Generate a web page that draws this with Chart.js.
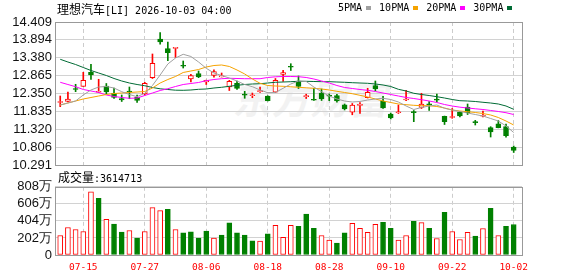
<!DOCTYPE html>
<html>
<head>
<meta charset="utf-8">
<script src="https://cdn.jsdelivr.net/npm/chart.js@4.4.1/dist/chart.umd.min.js"></script>
<style>
  html, body { margin: 0; padding: 0; background: #fff; }
  #wrap { position: relative; width: 578px; height: 276px; overflow: hidden; }
  canvas { position: absolute; left: 0; }
  #price-canvas { top: 0; }
  #vol-canvas { top: 176px; }
  .txt { position: absolute; white-space: nowrap; color: #000; line-height: 14px; }
  .cjk { font-family: "Noto Sans CJK SC"; font-size: 12px; }
  .mono { font-family: "DejaVu Sans Mono"; font-size: 10px; }
  #watermark { position: absolute; left: 236px; top: 70px; font-family: "Noto Sans CJK SC"; font-weight: bold;
    font-size: 38px; color: #f2f2f2; transform: skewX(-12deg); letter-spacing: 1px; }
  #legend { position: absolute; left: 338px; top: 2px; display: flex; align-items: center; }
  #legend .sq { display: inline-block; width: 5px; height: 4px; margin: 0 8px 0 4px; }
</style>
</head>
<body>
<div id="wrap">
  <div id="watermark">东方财富</div>
  <canvas id="price-canvas" width="578" height="176"></canvas>
  <canvas id="vol-canvas" width="578" height="100"></canvas>
  <div class="txt" style="left:57px;top:2px;"><span class="cjk">理想汽车</span><span class="mono">[LI] 2026-10-03 04:00</span></div>
  <div id="legend"></div>
  <div class="txt" style="left:58px;top:170px;"><span class="cjk">成交量</span><span class="mono" id="vol-last"></span></div>
</div>
<script>
const dates = ['07-10', '07-13', '07-14', '07-15', '07-16', '07-17', '07-20', '07-21', '07-22', '07-23',
  '07-24', '07-27', '07-28', '07-29', '07-30', '07-31', '08-03', '08-04', '08-05', '08-06',
  '08-07', '08-10', '08-11', '08-12', '08-13', '08-14', '08-17', '08-18', '08-19', '08-20',
  '08-21', '08-24', '08-25', '08-26', '08-27', '08-28', '08-31', '09-01', '09-02', '09-03',
  '09-04', '09-08', '09-09', '09-10', '09-11', '09-14', '09-15', '09-16', '09-17', '09-18',
  '09-21', '09-22', '09-23', '09-24', '09-25', '09-28', '09-29', '09-30', '10-01', '10-02'];
const tickLabels = ['07-15', '07-27', '08-06', '08-18', '08-28', '09-10', '09-22', '10-02'];

const opens = [12.090, 12.125, 12.494, 12.557, 12.960, 12.385, 12.566, 12.356, 12.206, 12.422,
  12.243, 12.336, 12.805, 13.919, 13.640, 13.650, 13.156, 12.768, 12.926, 12.681,
  12.874, 12.830, 12.543, 12.644, 12.318, 12.285, 12.405, 12.278, 12.385, 12.897,
  13.128, 12.710, 12.262, 12.163, 12.364, 12.292, 12.292, 12.025, 11.809, 12.010,
  12.229, 12.575, 12.128, 11.754, 11.795, 12.163, 11.817, 11.947, 12.048, 12.177,
  11.693, 11.658, 11.809, 11.961, 11.529, 11.695, 11.365, 11.477, 11.400, 10.804];
const highs = [12.278, 12.393, 12.615, 12.960, 13.191, 12.759, 12.638, 12.509, 12.307, 12.537,
  12.307, 12.672, 13.488, 14.101, 13.833, 13.670, 13.286, 12.903, 12.998, 12.735,
  13.032, 12.940, 12.730, 12.710, 12.413, 12.364, 12.537, 12.285, 12.782, 13.018,
  13.208, 12.854, 12.330, 12.500, 12.480, 12.336, 12.327, 12.048, 12.062, 12.091,
  12.500, 12.710, 12.272, 11.788, 12.019, 12.442, 11.860, 12.356, 12.120, 12.336,
  11.700, 11.918, 11.838, 12.048, 11.578, 11.846, 11.394, 11.572, 11.472, 10.838];
const lows = [11.970, 12.105, 12.402, 12.557, 12.753, 12.380, 12.336, 12.206, 12.120, 12.200,
  12.091, 12.307, 12.782, 13.767, 13.295, 13.387, 13.084, 12.681, 12.805, 12.609,
  12.819, 12.825, 12.436, 12.471, 12.212, 12.229, 12.379, 12.135, 12.375, 12.695,
  13.012, 12.494, 12.206, 12.150, 12.148, 12.143, 12.097, 11.875, 11.737, 11.774,
  12.220, 12.428, 11.918, 11.616, 11.774, 12.143, 11.538, 11.918, 11.860, 12.111,
  11.457, 11.636, 11.679, 11.745, 11.443, 11.673, 11.097, 11.360, 11.089, 10.651];
const closes = [12.097, 12.192, 12.465, 12.730, 12.883, 12.393, 12.393, 12.235, 12.163, 12.393,
  12.154, 12.644, 13.220, 13.833, 13.525, 13.660, 13.136, 12.868, 12.831, 12.730,
  12.978, 12.839, 12.704, 12.494, 12.301, 12.292, 12.413, 12.143, 12.730, 12.949,
  13.107, 12.551, 12.269, 12.155, 12.192, 12.272, 12.134, 11.904, 12.013, 12.039,
  12.387, 12.480, 11.938, 11.650, 11.803, 12.192, 11.797, 12.042, 12.027, 12.157,
  11.538, 11.665, 11.702, 11.797, 11.509, 11.702, 11.241, 11.365, 11.135, 10.709];
const volumes = [2310000, 3260000, 3020000, 2780000, 7490000, 6710000, 4240000, 3650000, 2710000, 2900000,
  2000000, 2780000, 5610000, 5260000, 5410000, 3020000, 2620000, 2740000, 2000000, 2820000,
  2000000, 2350000, 3800000, 2620000, 2350000, 1690000, 1650000, 2500000, 3520000, 2080000,
  3520000, 3410000, 4850000, 3170000, 2310000, 1760000, 1410000, 2620000, 3760000, 3170000,
  2700000, 3640000, 3880000, 3170000, 1760000, 2310000, 4000000, 3840000, 3170000, 1960000,
  5060000, 2780000, 1840000, 2700000, 2230000, 3140000, 5530000, 2310000, 3410000, 3614713];

const ma5 = [12.019, 12.076, 12.134, 12.307, 12.451, 12.537, 12.552, 12.508, 12.402, 12.321,
  12.258, 12.356, 12.581, 12.883, 13.200, 13.372, 13.479, 13.416, 13.257, 13.076,
  12.940, 12.868, 12.796, 12.710, 12.609, 12.546, 12.451, 12.373, 12.379, 12.500,
  12.624, 12.710, 12.696, 12.537, 12.402, 12.278, 12.192, 12.134, 12.105, 12.120,
  12.163, 12.192, 12.212, 12.177, 12.105, 11.990, 11.889, 11.947, 11.990, 12.019,
  11.924, 11.875, 11.832, 11.788, 11.745, 11.702, 11.630, 11.558, 11.414, 11.227];
const ma10 = [12.019, 12.076, 12.134, 12.192, 12.235, 12.278, 12.321, 12.350, 12.364, 12.379,
  12.393, 12.408, 12.508, 12.652, 12.753, 12.840, 12.955, 12.998, 13.041, 13.113,
  13.156, 13.171, 13.128, 13.027, 12.912, 12.768, 12.644, 12.580, 12.566, 12.557,
  12.543, 12.529, 12.514, 12.500, 12.480, 12.451, 12.413, 12.379, 12.344, 12.298,
  12.249, 12.192, 12.134, 12.091, 12.048, 12.028, 12.010, 11.999, 11.999, 11.976,
  11.933, 11.875, 11.846, 11.826, 11.803, 11.774, 11.731, 11.659, 11.558, 11.443];
const ma20 = [12.673, 12.609, 12.546, 12.466, 12.422, 12.379, 12.307, 12.264, 12.235, 12.212,
  12.220, 12.292, 12.364, 12.436, 12.488, 12.552, 12.609, 12.638, 12.667, 12.719,
  12.753, 12.776, 12.788, 12.782, 12.776, 12.776, 12.776, 12.811, 12.831, 12.840,
  12.840, 12.834, 12.811, 12.768, 12.710, 12.652, 12.580, 12.523, 12.494, 12.465,
  12.442, 12.408, 12.364, 12.321, 12.278, 12.235, 12.206, 12.172, 12.134, 12.091,
  12.033, 11.990, 11.956, 11.933, 11.910, 11.889, 11.861, 11.832, 11.797, 11.745];
const ma30 = [13.335, 13.257, 13.185, 13.099, 13.012, 12.940, 12.868, 12.782, 12.710, 12.652,
  12.609, 12.574, 12.523, 12.485, 12.465, 12.445, 12.442, 12.451, 12.471, 12.480,
  12.508, 12.529, 12.557, 12.586, 12.609, 12.624, 12.632, 12.652, 12.673, 12.681,
  12.690, 12.701, 12.701, 12.696, 12.690, 12.690, 12.681, 12.673, 12.661, 12.652,
  12.644, 12.624, 12.595, 12.552, 12.471, 12.422, 12.356, 12.321, 12.292, 12.258,
  12.220, 12.177, 12.143, 12.134, 12.120, 12.097, 12.076, 12.048, 11.990, 11.895];

const priceTicks = [10.291, 10.806, 11.320, 11.835, 12.350, 12.865, 13.380, 13.894, 14.409];
const volumeTicks = [0, 2020000, 4040000, 6060000, 8080000];
const maNames = ['5PMA', '10PMA', '20PMA', '30PMA'];
const maSeries = [ma5, ma10, ma20, ma30];
const maColors = ['#a0a0a0', '#f5a300', '#ff00ff', '#006b35'];

const UP = '#ff0000';
const DOWN = '#008000';
const X_MIN = -0.68;
const X_MAX = 60.08;
const tickIdx = tickLabels.map((label) => dates.indexOf(label));

const candleUp = (i) => closes[i] >= opens[i];
const volumeUp = (i) => i === 0 || closes[i] >= closes[i - 1];

const boxPlugin = {
  id: 'box',
  afterDatasetsDraw(chart) {
    const { ctx, chartArea: a } = chart;
    ctx.save();
    ctx.strokeStyle = '#999';
    ctx.lineWidth = 1;
    ctx.strokeRect(Math.round(a.left) + 0.5, Math.round(a.top) + 0.5,
      Math.round(a.right - a.left), Math.round(a.bottom - a.top));
    ctx.restore();
  }
};

function xAxis(showLabels) {
  return {
    type: 'linear',
    min: X_MIN,
    max: X_MAX,
    offset: false,
    afterBuildTicks: (scale) => { scale.ticks = tickIdx.map((value) => ({ value })); },
    afterFit: (scale) => { scale.height = showLabels ? 21 : 0; },
    ticks: {
      display: showLabels,
      autoSkip: false,
      maxRotation: 0,
      padding: 7,
      color: UP,
      font: { family: 'DejaVu Sans Mono', size: 9.5 },
      callback: (value) => dates[value]
    },
    grid: { color: '#cccccc', drawTicks: false, offset: false },
    border: { display: false, dash: [4, 3] }
  };
}

function yAxis(min, max, ticks, format) {
  return {
    min,
    max,
    beginAtZero: false,
    afterBuildTicks: (scale) => { scale.ticks = ticks.map((value) => ({ value })); },
    afterFit: (scale) => { scale.width = 55; },
    ticks: {
      autoSkip: false,
      color: '#111',
      padding: 3,
      font: { family: 'Liberation Sans', size: 13 },
      callback: format
    },
    grid: { color: '#d2d2d2', drawTicks: false },
    border: { display: false }
  };
}

const idx = dates.map((d, i) => i);

new Chart(document.getElementById('price-canvas'), {
  type: 'bar',
  data: {
    datasets: [
      ...maSeries.map((series, k) => ({
        type: 'line',
        label: maNames[k],
        data: series.map((v, i) => ({ x: i, y: v })),
        borderColor: maColors[k],
        borderWidth: 1,
        pointRadius: 0,
        tension: 0,
        order: 0
      })),
      {
        label: 'body',
        data: idx.map((i) => ({ x: i, y: [opens[i], closes[i]] })),
        barThickness: 5,
        minBarLength: 1,
        grouped: false,
        borderSkipped: false,
        borderWidth: 1,
        backgroundColor: (c) => (candleUp(c.dataIndex) ? '#ffffff' : DOWN),
        borderColor: (c) => (candleUp(c.dataIndex) ? UP : DOWN),
        order: 1
      },
      {
        label: 'wick',
        data: idx.map((i) => ({ x: i, y: [lows[i], highs[i]] })),
        barThickness: 1,
        minBarLength: 1,
        grouped: false,
        borderWidth: 0,
        backgroundColor: (c) => (candleUp(c.dataIndex) ? UP : DOWN),
        order: 2
      }
    ]
  },
  options: {
    responsive: false,
    animation: false,
    devicePixelRatio: 1,
    layout: { padding: { top: 22, right: 56, bottom: 11, left: 0 } },
    plugins: { legend: { display: false }, tooltip: { enabled: false } },
    scales: {
      x: xAxis(false),
      y: yAxis(priceTicks[0], priceTicks[priceTicks.length - 1], priceTicks, (v) => v.toFixed(3))
    }
  },
  plugins: [boxPlugin]
});

new Chart(document.getElementById('vol-canvas'), {
  type: 'bar',
  data: {
    datasets: [{
      label: '成交量',
      data: idx.map((i) => ({ x: i, y: volumes[i] })),
      barThickness: 5,
      grouped: false,
      borderSkipped: false,
      borderWidth: 1,
      backgroundColor: (c) => (volumeUp(c.dataIndex) ? '#ffffff' : DOWN),
      borderColor: (c) => (volumeUp(c.dataIndex) ? UP : DOWN)
    }]
  },
  options: {
    responsive: false,
    animation: false,
    devicePixelRatio: 1,
    layout: { padding: { top: 10, right: 56, bottom: 0, left: 0 } },
    plugins: { legend: { display: false }, tooltip: { enabled: false } },
    scales: {
      x: xAxis(true),
      y: yAxis(volumeTicks[0], volumeTicks[volumeTicks.length - 1], volumeTicks,
        (v) => (v === 0 ? '0' : `${Math.round(v / 10000)}万`))
    }
  },
  plugins: [boxPlugin]
});

const legend = document.getElementById('legend');
maNames.forEach((name, k) => {
  const label = document.createElement('span');
  label.className = 'mono';
  label.textContent = name;
  const sq = document.createElement('span');
  sq.className = 'sq';
  sq.style.background = maColors[k];
  legend.appendChild(label);
  legend.appendChild(sq);
});

document.getElementById('vol-last').textContent = `:${volumes[volumes.length - 1]}`;
</script>
</body>
</html>
